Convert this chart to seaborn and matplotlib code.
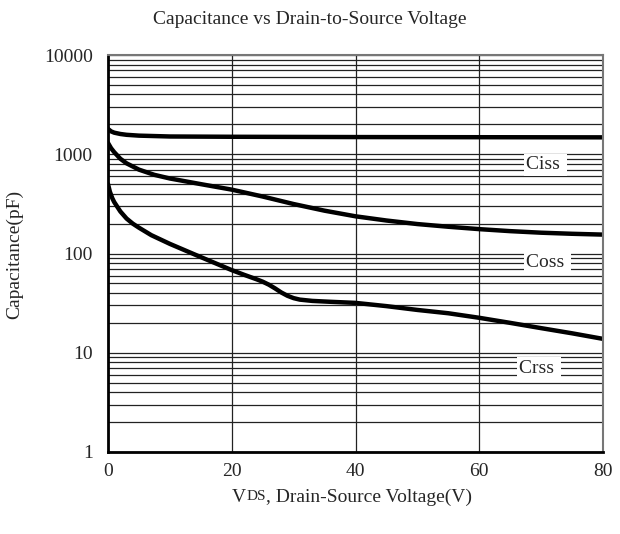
import numpy as np
import pandas as pd
import matplotlib
matplotlib.use('Agg')
import matplotlib.pyplot as plt
import seaborn as sns
from matplotlib.ticker import FixedLocator, LogLocator, NullFormatter

# Curve data (VDS in volts, capacitance in pF)
ciss_v = [0, 0.5, 1, 2, 3, 5, 10, 20, 40, 60, 80]
ciss_c = [1800, 1700, 1650, 1600, 1570, 1540, 1510, 1500, 1490, 1485, 1480]

coss_v = [0, 0.5, 1, 2, 3, 5, 7.5, 10, 15, 20, 25, 30, 35, 40, 45, 50, 55, 60, 65, 70, 75, 80]
coss_c = [1300, 1150, 1050, 900, 810, 700, 620, 570, 500, 440, 375, 315, 270, 237, 215, 198,
          186, 176, 168, 162, 158, 155]

crss_v = [0, 0.3, 0.7, 1, 2, 3, 4, 5, 7, 10, 13, 15, 20, 22, 24, 25, 26, 27, 28, 29, 30,
          31, 33, 36, 40, 45, 50, 55, 60, 65, 70, 75, 80]
crss_c = [500, 420, 360, 330, 265, 225, 200, 182, 153, 125, 104, 92, 68, 61, 55, 52, 48.5,
          44.5, 40.5, 37.5, 35.5, 34.3, 33.3, 32.6, 31.8, 29.5, 27, 25, 22.5, 20, 17.7, 15.7, 13.8]

labels = ['Ciss', 'Coss', 'Crss']
label_v = [67.5, 67.5, 66.5]
label_c = [780, 82, 7.0]

x_ticks = [0, 20, 40, 60, 80]
y_ticks = [1, 10, 100, 1000, 10000]
y_ticklabels = ['1', '10', '100', '1000', '10000']

df = pd.concat([
    pd.DataFrame({'VDS': ciss_v, 'C': ciss_c, 'series': 'Ciss'}),
    pd.DataFrame({'VDS': coss_v, 'C': coss_c, 'series': 'Coss'}),
    pd.DataFrame({'VDS': crss_v, 'C': crss_c, 'series': 'Crss'}),
])

sns.set_style('white')
plt.rcParams['font.family'] = ['Liberation Serif', 'DejaVu Serif']

fig = plt.figure(figsize=(6.2, 5.34), dpi=100)
ax = fig.add_axes([108 / 620, 1 - 452 / 534, 495 / 620, 397 / 534])

ax.set_yscale('log')
ax.set_xlim(0, 80)
ax.set_ylim(1, 10000)
ax.yaxis.set_major_locator(FixedLocator(y_ticks))
ax.yaxis.set_minor_locator(LogLocator(base=10, subs=range(2, 10)))
ax.yaxis.set_minor_formatter(NullFormatter())
ax.set_yticklabels(y_ticklabels)
ax.set_xticks(x_ticks)

ax.grid(True, which='both', axis='y', color='#222222', linewidth=0.9)
ax.grid(True, which='major', axis='x', color='#222222', linewidth=0.9)
ax.set_axisbelow(True)

sns.lineplot(data=df, x='VDS', y='C', hue='series', units='series', estimator=None,
             sort=False, palette=['black'] * 3, linewidth=3.2, legend=False, ax=ax)

for lab, v, c in zip(labels, label_v, label_c):
    ax.text(v, c, lab + ' ', fontsize=14, ha='left', va='center', zorder=5,
            bbox=dict(facecolor='white', edgecolor='none', pad=1.5))

ax.tick_params(axis='both', which='both', length=0, labelsize=14)
ax.tick_params(axis='y', pad=11)
ax.tick_params(axis='x', pad=8)

for side in ['left', 'bottom']:
    ax.spines[side].set_color('black')
    ax.spines[side].set_linewidth(2)
for side in ['top', 'right']:
    ax.spines[side].set_color('#777777')
    ax.spines[side].set_linewidth(1.5)

ax.set_xlabel('')
ax.set_ylabel('')
fig.text(15 / 620, 1 - 254 / 534, 'Capacitance(pF)', fontsize=14, rotation=90,
         ha='center', va='center')

fig.text(0.5, 1 - 20 / 534, 'Capacitance vs Drain-to-Source Voltage', fontsize=14,
         ha='center', va='center')

# x label with small-caps style "DS" sitting on the baseline
t1 = fig.text(232 / 620, 1 - 497 / 534, 'V', fontsize=14, ha='left', va='center')
t2 = ax.annotate('DS', xy=(1, 0), xycoords=t1, xytext=(0.5, 1.5), textcoords='offset points',
                 fontsize=11, ha='left', va='bottom')
ax.annotate(', Drain-Source Voltage(V)', xy=(1, 0), xycoords=(t2, t1), fontsize=14,
            ha='left', va='bottom')

fig.savefig('out.png', dpi=100)
